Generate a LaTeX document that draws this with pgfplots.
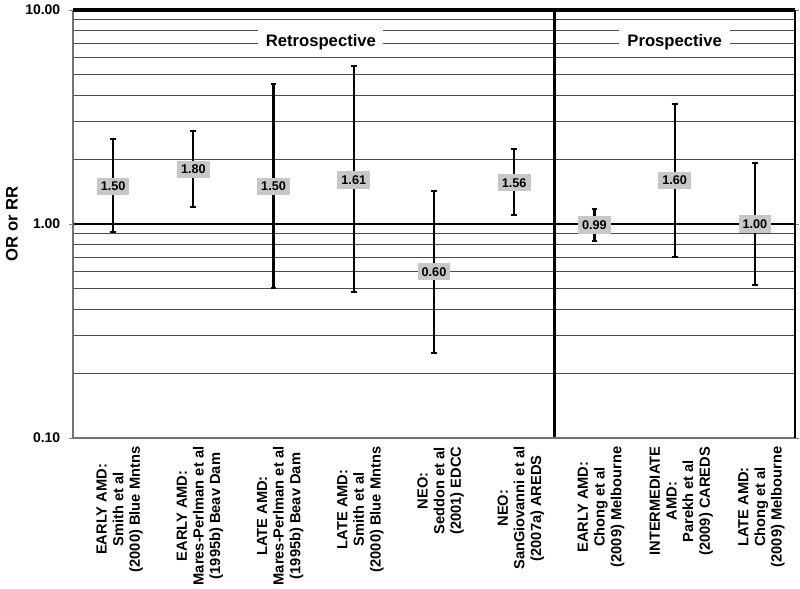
\documentclass[border=0pt]{standalone}
\usepackage{fontspec}
\setmainfont{Liberation Sans}
\usepackage{pgfplots}
\usepackage{pgfplotstable}
\pgfplotsset{compat=1.18}

% x  estimate  (upper - est)  (est - lower)  label
\pgfplotstableread{
x y ep em lab
1 1.50 1.00 0.58 1.50
2 1.80 0.92 0.60 1.80
3 1.50 3.00 1.00 1.50
4 1.61 3.84 1.13 1.61
5 0.60 0.83 0.35 0.60
6 1.56 0.68 0.46 1.56
7 0.99 0.19 0.16 0.99
8 1.60 2.04 0.90 1.60
9 1.00 0.93 0.48 1.00
}\ordata

\begin{document}
\begin{tikzpicture}
\begin{axis}[
    scale only axis,
    width=541.5pt, height=321pt,
    clip=false,
    xmin=0.5, xmax=9.5,
    ymode=log, ymin=0.1, ymax=10,
    axis line style={draw=none},
    xtick={1,...,9},
    xticklabels={
      {EARLY AMD:\\Smith et al\\(2000) Blue Mntns},
      {EARLY AMD:\\Mares-Perlman et al\\(1995b) Beav Dam},
      {LATE AMD:\\Mares-Perlman et al\\(1995b) Beav Dam},
      {LATE AMD:\\Smith et al\\(2000) Blue Mntns},
      {NEO:\\Seddon et al\\(2001) EDCC},
      {NEO:\\SanGiovanni et al\\(2007a) AREDS},
      {EARLY AMD:\\Chong et al\\(2009) Melbourne},
      {INTERMEDIATE\\AMD:\\Parekh et al\\(2009) CAREDS},
      {LATE AMD:\\Chong et al\\(2009) Melbourne}},
    x tick label style={font=\bfseries\fontsize{11}{12.5}\selectfont,
      align=center, rotate=90, anchor=east, yshift=-5pt},
    xtick style={draw=none},
    extra x ticks={0.5,1.5,...,9.5},
    extra x tick labels={},
    extra x tick style={tick style={draw=gray, line width=0.6pt},
      major tick length=3pt, tick align=outside},
    ytick={0.1,1,10},
    yticklabels={0.10,1.00,10.00},
    minor ytick={0.2,0.3,0.4,0.5,0.6,0.7,0.8,0.9,2,3,4,5,6,7,8,9},
    yminorgrids=true,
    minor grid style={black!70, line width=0.6pt},
    minor tick length=0pt,
    major tick length=3pt,
    tick align=outside,
    y tick style={draw=gray, line width=0.6pt},
    y tick label style={font=\bfseries\fontsize{10.5}{12}\selectfont, xshift=-3pt},
    /pgf/number format/assume math mode=true,
    ylabel={OR or RR},
    ylabel style={font=\bfseries\fontsize{12.5}{14}\selectfont,
      at={(axis description cs:-0.0845,0.5)}, anchor=center},
]
% frame and reference lines
\draw[black, line width=2.2pt] (axis cs:0.5,1) -- (axis cs:9.5,1);
\draw[black, line width=2pt] (axis cs:6.5,0.1) -- (axis cs:6.5,10);
\draw[black!55, line width=1.5pt] (axis cs:0.5,10) -- (axis cs:0.5,0.1) -- (axis cs:9.5,0.1);
\draw[black, line width=1.5pt] (axis cs:9.5,0.1) -- (axis cs:9.5,10);
\draw[black, line width=2.7pt] (axis cs:0.5,10) -- (axis cs:9.5,10);

\node[fill=white, font=\bfseries\fontsize{12.5}{15}\selectfont,
  inner xsep=5.5pt, inner ysep=4pt, text height=9pt, text depth=2.5pt]
  at (axis cs:3.59,7.1) {Retrospective};
\node[fill=white, font=\bfseries\fontsize{12.5}{15}\selectfont,
  inner xsep=6pt, inner ysep=4pt, text height=9pt, text depth=2.5pt]
  at (axis cs:8.0,7.1) {Prospective};

\addplot[only marks, mark=none,
    nodes near coords,
    point meta=explicit symbolic,
    nodes near coords align=center,
    every node near coord/.append style={anchor=center, fill=black!22,
      font=\bfseries\fontsize{9.5}{10}\selectfont, inner xsep=3pt,
      inner ysep=3.2pt, text height=6.8pt, text depth=0pt},
    error bars/.cd, y dir=both, y explicit,
    error mark=|,
    error bar style={black, line width=1.6pt},
    error mark options={black, line width=1.4pt, mark size=2.2pt}]
  table[x=x, y=y, y error plus=ep, y error minus=em, meta=lab] {\ordata};
\end{axis}
\pgfresetboundingbox
\path[use as bounding box] (-54.75pt,-113.25pt) rectangle (545.25pt,328.5pt);
\end{tikzpicture}
\end{document}
